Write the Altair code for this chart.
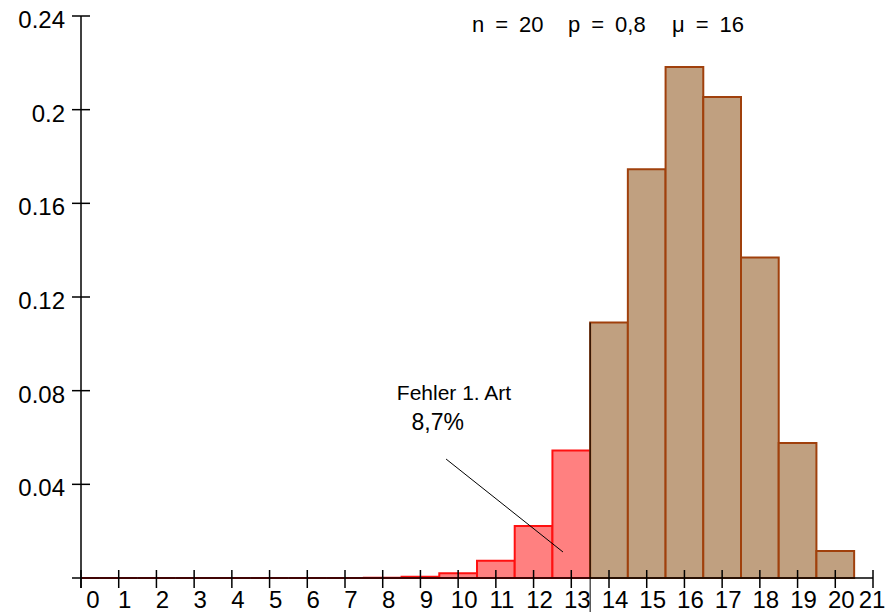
import altair as alt
import pandas as pd

# Data (binomial n=20, p=0.8)
k_values = list(range(21))
probabilities = [0.0000, 0.0000, 0.0000, 0.0000, 0.0000, 0.0000, 0.0000, 0.0000,
                 0.0001, 0.0005, 0.0020, 0.0074, 0.0222, 0.0545, 0.1091, 0.1746,
                 0.2182, 0.2054, 0.1369, 0.0576, 0.0115]
groups = ["Fehler" if k <= 13 else "Annahme" for k in k_values]
x_ticks = list(range(22))
y_ticks = [0.04, 0.08, 0.12, 0.16, 0.2, 0.24]
y_tick_labels = ["0.04", "0.08", "0.12", "0.16", "0.2", "0.24"]
critical_x = 13.5
annotation_text = ["Fehler 1. Art", "8,7%"]
title_parts = ["n\u2002=\u200220", "p\u2002=\u20020,8", "\u03bc\u2002=\u200216"]

W, H = 792, 562
FONT = "Liberation Sans"
LBL = 24

bars = pd.DataFrame({
    "k": k_values,
    "p": probabilities,
    "g": groups,
})
bars["x0"] = (bars["k"] - 0.5).clip(lower=0)
bars["x1"] = bars["k"] + 0.5

xs = alt.Scale(domain=[0, 21], nice=False, zero=False)
ys = alt.Scale(domain=[0, 0.24], nice=False)

bar_layer = alt.Chart(bars).mark_rect(strokeWidth=2).encode(
    x=alt.X("x0:Q", scale=xs, axis=None),
    x2="x1:Q",
    y=alt.Y("p:Q", scale=ys, axis=None),
    y2=alt.datum(0),
    fill=alt.Color("g:N", scale=alt.Scale(domain=["Fehler", "Annahme"],
                                          range=["#FF8080", "#C0A080"]), legend=None),
    stroke=alt.Stroke("g:N", scale=alt.Scale(domain=["Fehler", "Annahme"],
                                             range=["#FF1010", "#A0400C"]), legend=None),
)

one = pd.DataFrame({"a": [0]})

x_axis_line = alt.Chart(one).mark_rule(color="black", strokeWidth=1.5).encode(
    x=alt.value(-9), x2=alt.value(W), y=alt.value(H))
y_axis_line = alt.Chart(one).mark_rule(color="black", strokeWidth=1.5).encode(
    x=alt.value(0), y=alt.value(0), y2=alt.value(H + 10))

xt = pd.DataFrame({"t": x_ticks, "lab": [str(t) for t in x_ticks]})
x_tick_marks = alt.Chart(xt).mark_rule(color="black", strokeWidth=1.5).encode(
    x=alt.X("t:Q", scale=xs), y=alt.value(H - 8), y2=alt.value(H + 10))
x_labels0 = alt.Chart(xt[xt.t == 0]).mark_text(
    font=FONT, fontSize=LBL, dx=12, baseline="alphabetic", color="black").encode(
    x=alt.X("t:Q", scale=xs), y=alt.value(H + 30), text="lab:N")
x_labels = alt.Chart(xt[(xt.t > 0) & (xt.t < 21)]).mark_text(
    font=FONT, fontSize=LBL, dx=6, baseline="alphabetic", color="black").encode(
    x=alt.X("t:Q", scale=xs), y=alt.value(H + 30), text="lab:N")
x_labels_last = alt.Chart(xt[xt.t == 21]).mark_text(
    font=FONT, fontSize=LBL, dx=-1, baseline="alphabetic", color="black").encode(
    x=alt.X("t:Q", scale=xs), y=alt.value(H + 30), text="lab:N")

yt = pd.DataFrame({"v": y_ticks, "lab": y_tick_labels})
y_tick_marks = alt.Chart(yt).mark_rule(color="black", strokeWidth=1.5).encode(
    y=alt.Y("v:Q", scale=ys), x=alt.value(-9), x2=alt.value(9))
y_labels = alt.Chart(yt).mark_text(
    font=FONT, fontSize=LBL, align="right", baseline="middle", dy=5, color="black").encode(
    y=alt.Y("v:Q", scale=ys), x=alt.value(-16), text="lab:N")

crit = pd.DataFrame({"x": [critical_x], "y": [probabilities[14]]})
crit_line = alt.Chart(crit).mark_rule(color="black", strokeWidth=1).encode(
    x=alt.X("x:Q", scale=xs), y=alt.Y("y:Q", scale=ys), y2=alt.value(H + 40))

ann = pd.DataFrame({"x": [9.68], "y": [0.0508], "x2": [12.78], "y2": [0.0111]})
ann_line = alt.Chart(ann).mark_rule(color="black", strokeWidth=1).encode(
    x=alt.X("x:Q", scale=xs), y=alt.Y("y:Q", scale=ys), x2="x2:Q", y2="y2:Q")

ann_txt = pd.DataFrame({"x": [9.89, 9.46], "y": [0.0760, 0.0632],
                        "t": annotation_text, "s": [21, 23]})
ann_text = alt.Chart(ann_txt).mark_text(
    font=FONT, baseline="alphabetic", color="black").encode(
    x=alt.X("x:Q", scale=xs), y=alt.Y("y:Q", scale=ys), text="t:N",
    size=alt.Size("s:Q", scale=None, legend=None))

title_df = pd.DataFrame({"t": title_parts, "px": [472 - 81, 568 - 81, 672 - 81]})
title = alt.Chart(title_df).mark_text(
    font=FONT, fontSize=22, baseline="alphabetic", align="left", color="black").encode(
    x=alt.X("px:Q", scale=None), y=alt.value(32 - 16), text="t:N")

chart = alt.layer(
    bar_layer, crit_line, ann_line, x_axis_line, y_axis_line,
    x_tick_marks, y_tick_marks, x_labels0, x_labels, x_labels_last, y_labels,
    ann_text, title
).properties(
    width=W, height=H,
    autosize=alt.AutoSizeParams(type="none"),
    padding={"left": 73, "top": 8, "right": 12, "bottom": 34},
).configure_view(stroke=None)

chart.save("out.html", embed_options={"renderer": "svg", "actions": False})
